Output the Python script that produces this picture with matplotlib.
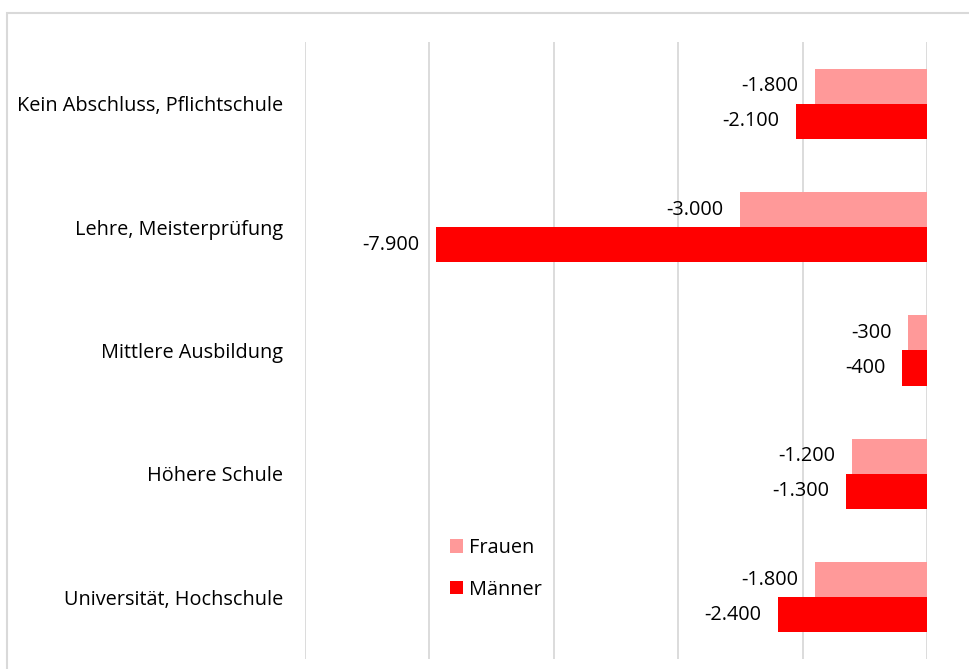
import matplotlib
matplotlib.use("Agg")
import matplotlib.pyplot as plt
from matplotlib.patches import Rectangle, Patch
import numpy as np

categories = ["Kein Abschluss, Pflichtschule", "Lehre, Meisterprüfung",
              "Mittlere Ausbildung", "Höhere Schule", "Universität, Hochschule"]
frauen = [-1800, -3000, -300, -1200, -1800]
maenner = [-2100, -7900, -400, -1300, -2400]
series_names = ["Frauen", "Männer"]
colors = ["#FF9999", "#FF0000"]

plt.rcParams['font.family'] = ['Open Sans', 'DejaVu Sans']
FS = 14.3

W, H = 969, 669
fig = plt.figure(figsize=(W / 100, H / 100), dpi=100)
ax = fig.add_axes([305 / W, 1 - 659 / H, (927 - 305) / W, (659 - 42) / H])

y = np.arange(len(categories))
bh = 0.285
ax.barh(y - bh / 2, frauen, height=bh, color=colors[0], zorder=3)
ax.barh(y + bh / 2, maenner, height=bh, color=colors[1], zorder=3)

def fmt(v):
    return ("-" if v < 0 else "") + f"{abs(v):,}".replace(",", ".")

for vals, off in ((frauen, -bh / 2), (maenner, bh / 2)):
    for i, v in enumerate(vals):
        ax.annotate(fmt(v), xy=(v, i + off), xytext=(-12, 0), textcoords="offset points",
                    ha="right", va="center", fontsize=FS, color="#000000", zorder=4)

ax.set_xlim(-10000, 0)
ax.set_ylim(len(categories) - 0.5, -0.5)
ax.set_xticks(np.arange(-10000, 1, 2000))
ax.set_xticklabels([])
ax.tick_params(axis="x", length=0)
ax.tick_params(axis="y", length=0, pad=16, labelsize=FS)
ax.set_yticks(y)
ax.set_yticklabels(categories)
ax.grid(axis="x", color="#d9d9d9", linewidth=1.3, zorder=0)
for s in ax.spines.values():
    s.set_visible(False)

handles = [Patch(facecolor=c, edgecolor="none") for c in colors]
fig.legend(handles, series_names, loc="upper left", bbox_to_anchor=(432 / W, 1 - 520 / H),
           frameon=False, fontsize=FS, handlelength=0.65, handleheight=0.65,
           labelspacing=1.1, handletextpad=0.3)

fig.patches.append(Rectangle((7 / W, -0.1), 1.2, 1.1 - 13 / H, transform=fig.transFigure,
                             fill=False, edgecolor="#d9d9d9", linewidth=1.5))

fig.savefig("out.png", dpi=100)
